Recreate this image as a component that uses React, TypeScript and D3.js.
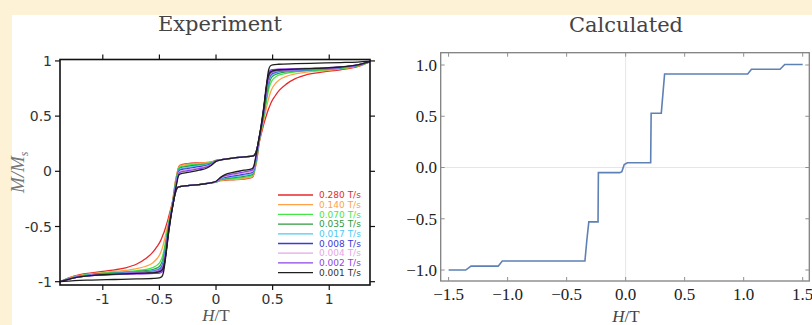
import React from "react";
import * as d3 from "d3";

// field grid (T) for the descending sweep of the experiment loops, ascending order
const hGrid = [
  -1.38, -1.25, -1.1, -0.95, -0.8, -0.7, -0.62, -0.56, -0.52, -0.49, -0.47, -0.455, -0.44, -0.425, -0.41, -0.395,
  -0.38, -0.365, -0.35, -0.33, -0.25, -0.15, -0.05, 0.0, 0.04, 0.08, 0.15, 0.25, 0.32, 0.335, 0.345, 0.36, 0.375,
  0.39, 0.405, 0.42, 0.435, 0.45, 0.465, 0.48, 0.5, 0.55, 0.7, 0.9, 1.1, 1.25, 1.38,
];

// M/Ms on the descending sweep, one array per sweep rate
const mRed = [
  -1.0, -0.948, -0.92, -0.9, -0.875, -0.84, -0.79, -0.735, -0.68, -0.63, -0.58, -0.54, -0.49, -0.44, -0.38, -0.32,
  -0.26, -0.2, -0.155, -0.14, -0.13, -0.12, -0.105, -0.099, -0.085, -0.081, -0.077, -0.07, -0.055, -0.025, 0.025,
  0.1, 0.21, 0.32, 0.42, 0.53, 0.65, 0.765, 0.855, 0.885, 0.9, 0.91, 0.915, 0.924, 0.936, 0.958, 1.0,
];
const mOrange = [
  -1.0, -0.953, -0.928, -0.912, -0.898, -0.882, -0.86, -0.83, -0.79, -0.74, -0.68, -0.62, -0.55, -0.48, -0.41,
  -0.34, -0.27, -0.21, -0.16, -0.14, -0.13, -0.12, -0.105, -0.098, -0.082, -0.078, -0.074, -0.065, -0.05, -0.02,
  0.03, 0.11, 0.22, 0.325, 0.425, 0.535, 0.655, 0.77, 0.86, 0.89, 0.905, 0.912, 0.918, 0.926, 0.938, 0.959, 1.0,
];
const mGreen = [
  -1.0, -0.956, -0.933, -0.92, -0.91, -0.9, -0.888, -0.873, -0.85, -0.815, -0.76, -0.69, -0.6, -0.51, -0.43, -0.35,
  -0.28, -0.21, -0.16, -0.14, -0.13, -0.12, -0.105, -0.097, -0.078, -0.072, -0.066, -0.055, -0.04, -0.01, 0.04,
  0.12, 0.23, 0.33, 0.43, 0.54, 0.66, 0.775, 0.865, 0.895, 0.908, 0.915, 0.92, 0.928, 0.94, 0.96, 1.0,
];
const mDarkGreen = [
  -1.0, -0.958, -0.936, -0.924, -0.915, -0.908, -0.9, -0.89, -0.875, -0.85, -0.8, -0.73, -0.63, -0.53, -0.44,
  -0.36, -0.29, -0.21, -0.16, -0.14, -0.13, -0.12, -0.105, -0.096, -0.074, -0.066, -0.058, -0.045, -0.03, 0.0,
  0.05, 0.13, 0.235, 0.335, 0.435, 0.545, 0.665, 0.78, 0.87, 0.9, 0.912, 0.918, 0.923, 0.93, 0.941, 0.961, 1.0,
];
const mCyan = [
  -1.0, -0.96, -0.938, -0.927, -0.919, -0.913, -0.908, -0.9, -0.888, -0.868, -0.83, -0.76, -0.66, -0.55, -0.45,
  -0.37, -0.3, -0.22, -0.165, -0.14, -0.13, -0.12, -0.105, -0.095, -0.071, -0.06, -0.05, -0.035, -0.02, 0.01, 0.06,
  0.14, 0.24, 0.34, 0.44, 0.55, 0.67, 0.785, 0.875, 0.905, 0.915, 0.92, 0.925, 0.932, 0.942, 0.962, 1.0,
];
const mBlue = [
  -1.0, -0.961, -0.94, -0.929, -0.922, -0.917, -0.913, -0.907, -0.897, -0.88, -0.845, -0.78, -0.68, -0.56, -0.46,
  -0.38, -0.3, -0.22, -0.165, -0.14, -0.13, -0.12, -0.105, -0.094, -0.067, -0.054, -0.042, -0.025, -0.01, 0.02,
  0.07, 0.15, 0.245, 0.345, 0.445, 0.555, 0.675, 0.79, 0.88, 0.91, 0.918, 0.922, 0.927, 0.933, 0.943, 0.963, 1.0,
];
const mPink = [
  -1.0, -0.962, -0.941, -0.931, -0.925, -0.92, -0.917, -0.912, -0.903, -0.89, -0.86, -0.8, -0.7, -0.57, -0.47,
  -0.38, -0.3, -0.22, -0.165, -0.14, -0.13, -0.12, -0.105, -0.093, -0.064, -0.047, -0.033, -0.015, 0.0, 0.03, 0.08,
  0.16, 0.25, 0.35, 0.45, 0.56, 0.68, 0.79, 0.885, 0.912, 0.92, 0.924, 0.929, 0.934, 0.944, 0.964, 1.0,
];
const mPurple = [
  -1.0, -0.963, -0.943, -0.933, -0.927, -0.922, -0.92, -0.915, -0.908, -0.895, -0.87, -0.81, -0.71, -0.58, -0.47,
  -0.38, -0.3, -0.22, -0.165, -0.14, -0.13, -0.12, -0.105, -0.092, -0.06, -0.04, -0.024, -0.005, 0.01, 0.04, 0.09,
  0.17, 0.26, 0.35, 0.45, 0.56, 0.68, 0.8, 0.89, 0.915, 0.922, 0.925, 0.93, 0.935, 0.945, 0.965, 1.0,
];
const mBlack = [
  -1.0, -0.965, -0.945, -0.935, -0.93, -0.925, -0.922, -0.92, -0.915, -0.905, -0.885, -0.83, -0.72, -0.58, -0.47,
  -0.38, -0.3, -0.22, -0.165, -0.14, -0.13, -0.12, -0.105, -0.09, -0.055, -0.03, -0.01, 0.01, 0.025, 0.05, 0.1,
  0.18, 0.27, 0.36, 0.46, 0.57, 0.7, 0.82, 0.92, 0.955, 0.965, 0.97, 0.975, 0.98, 0.985, 0.99, 1.0,
];

const rateLabels = ["0.280 T/s", "0.140 T/s", "0.070 T/s", "0.035 T/s", "0.017 T/s", "0.008 T/s", "0.004 T/s", "0.002 T/s", "0.001 T/s"];
const rateColors = ["#e8292c", "#ffa24a", "#44e844", "#2f9a3f", "#4ec9f2", "#3a3ad6", "#e6a6e8", "#8a46e6", "#1e1e1e"];
const rateValues = [mRed, mOrange, mGreen, mDarkGreen, mCyan, mBlue, mPink, mPurple, mBlack];

// calculated curve
const calcH = [
  -1.5, -1.355, -1.31, -1.08, -1.045, -0.345, -0.328, -0.312, -0.234, -0.231, -0.05, -0.032, -0.012, 0.015, 0.212,
  0.216, 0.302, 0.33, 1.034, 1.066, 1.308, 1.348, 1.5,
];
const calcM = [
  -1.0, -1.0, -0.962, -0.962, -0.912, -0.912, -0.7, -0.53, -0.53, -0.05, -0.05, -0.04, 0.03, 0.047, 0.047, 0.53,
  0.53, 0.912, 0.912, 0.958, 0.958, 1.005, 1.005,
];

const expTicks = [-1, -0.5, 0, 0.5, 1];
const calcXTicks = [-1.5, -1, -0.5, 0, 0.5, 1, 1.5];
const calcYTicks = [-1, -0.5, 0, 0.5, 1];

const fmtCalc = (v: number) => d3.format(".1f")(v).replace("-", "\u2212");

export default function App() {
  // experiment panel
  const eL = 60, eR = 370, eT = 59.5, eB = 285;
  const xE = d3.scaleLinear().domain([-1.378, 1.36]).range([eL, eR]);
  const yE = d3.scaleLinear().domain([-1.03, 1.013]).range([eB, eT]);
  const lineE = d3
    .line<[number, number]>()
    .x((d) => xE(d[0]))
    .y((d) => yE(d[1]))
    .curve(d3.curveMonotoneX);

  // calculated panel
  const cL = 440.7, cR = 809.3, cT = 52.7, cB = 281;
  const xC = d3.scaleLinear().domain([-1.567, 1.556]).range([cL, cR]);
  const yC = d3.scaleLinear().domain([-1.107, 1.12]).range([cB, cT]);
  const lineC = d3
    .line<number>()
    .x((_, i) => xC(calcH[i]))
    .y((d) => yC(d));

  const sansFont = "'DejaVu Sans', Verdana, sans-serif";
  const serifFont = "'Liberation Serif', 'Times New Roman', serif";

  return (
    <svg width={812} height={325} style={{ position: "absolute", left: 0, top: 0 }}>
      <rect x={0} y={0} width={812} height={325} fill="#fdf2d6" />
      <rect x={12} y={15} width={800} height={310} fill="#ffffff" />
      <defs>
        <clipPath id="clipE">
          <rect x={eL} y={eT} width={eR - eL} height={eB - eT} />
        </clipPath>
      </defs>

      {/* ---------- Experiment ---------- */}
      <text x={220} y={31} textAnchor="middle" fontFamily="'DejaVu Serif', serif" fontSize={21} fill="#444">
        Experiment
      </text>
      <g clipPath="url(#clipE)">
        {rateValues.map((ms, k) => {
          const down: [number, number][] = hGrid.map((h, i) => [h, ms[i]]);
          const up: [number, number][] = hGrid.map((h, i) => [-h, -ms[i]] as [number, number]).reverse();
          return (
            <g key={k} stroke={rateColors[k]} fill="none" strokeWidth={1.3}>
              <path d={lineE(down) || ""} />
              <path d={lineE(up) || ""} />
            </g>
          );
        })}
      </g>
      <rect x={eL} y={eT} width={eR - eL} height={eB - eT} fill="none" stroke="#111" strokeWidth={1.6} />
      {expTicks.map((t) => (
        <g key={"ex" + t} stroke="#111" strokeWidth={1.2}>
          <line x1={xE(t)} x2={xE(t)} y1={eB} y2={eB + 5} />
          <line x1={xE(t)} x2={xE(t)} y1={eT} y2={eT - 5} />
          <line x1={eL} x2={eL - 5} y1={yE(t)} y2={yE(t)} />
          <line x1={eR} x2={eR + 5} y1={yE(t)} y2={yE(t)} />
        </g>
      ))}
      {expTicks.map((t) => (
        <text key={"exl" + t} x={xE(t)} y={304} textAnchor="middle" fontFamily={sansFont} fontSize={14} fill="#333">
          {String(t)}
        </text>
      ))}
      {expTicks.map((t) => (
        <text key={"eyl" + t} x={52} y={yE(t)} dy="0.36em" textAnchor="end" fontFamily={sansFont} fontSize={14} fill="#333">
          {String(t)}
        </text>
      ))}
      <text
        transform={`translate(24,${(eT + eB) / 2}) rotate(-90)`}
        textAnchor="middle"
        fontFamily={serifFont}
        fontSize={19}
        fill="#777"
        fontStyle="italic"
      >
        M/M<tspan fontSize={12} dy={4}>s</tspan>
      </text>
      <text x={216} y={321} textAnchor="middle" fontFamily={serifFont} fontSize={17} fill="#555">
        <tspan fontStyle="italic">H</tspan>/T
      </text>

      {/* legend */}
      {rateLabels.map((lab, k) => {
        const y = 195 + k * 9.7;
        return (
          <g key={lab}>
            <line x1={278} x2={313} y1={y} y2={y} stroke={rateColors[k]} strokeWidth={1.3} />
            <text x={319} y={y} dy="0.35em" fontFamily={sansFont} fontSize={9} fill={k === 8 ? "#333" : rateColors[k]}>
              {lab}
            </text>
          </g>
        );
      })}

      {/* ---------- Calculated ---------- */}
      <text x={626} y={32} textAnchor="middle" fontFamily="'DejaVu Serif', serif" fontSize={21} fill="#444">
        Calculated
      </text>
      <line x1={xC(0)} x2={xC(0)} y1={cT} y2={cB} stroke="#e6e6e6" strokeWidth={1} />
      <line x1={cL} x2={cR} y1={yC(0)} y2={yC(0)} stroke="#e6e6e6" strokeWidth={1} />
      <path d={lineC(calcM) || ""} fill="none" stroke="#5e81b5" strokeWidth={1.6} />
      <rect x={cL} y={cT} width={cR - cL} height={cB - cT} fill="none" stroke="#808080" strokeWidth={1.3} />
      {calcXTicks.map((t) => (
        <g key={"cx" + t} stroke="#909090" strokeWidth={1}>
          <line x1={xC(t)} x2={xC(t)} y1={cB} y2={cB - 4} />
          <line x1={xC(t)} x2={xC(t)} y1={cT} y2={cT + 4} />
        </g>
      ))}
      {calcYTicks.map((t) => (
        <g key={"cy" + t} stroke="#909090" strokeWidth={1}>
          <line x1={cL} x2={cL + 4} y1={yC(t)} y2={yC(t)} />
          <line x1={cR} x2={cR - 4} y1={yC(t)} y2={yC(t)} />
        </g>
      ))}
      {calcXTicks.map((t) => (
        <text key={"cxl" + t} x={xC(t)} y={300} textAnchor="middle" fontFamily={serifFont} fontSize={17} fill="#222">
          {fmtCalc(t)}
        </text>
      ))}
      {calcYTicks.map((t) => (
        <text key={"cyl" + t} x={437} y={yC(t)} dy="0.35em" textAnchor="end" fontFamily={serifFont} fontSize={17} fill="#222">
          {fmtCalc(t)}
        </text>
      ))}
      <text x={626} y={322} textAnchor="middle" fontFamily={serifFont} fontSize={17} fill="#444">
        <tspan fontStyle="italic">H</tspan>/T
      </text>
    </svg>
  );
}
